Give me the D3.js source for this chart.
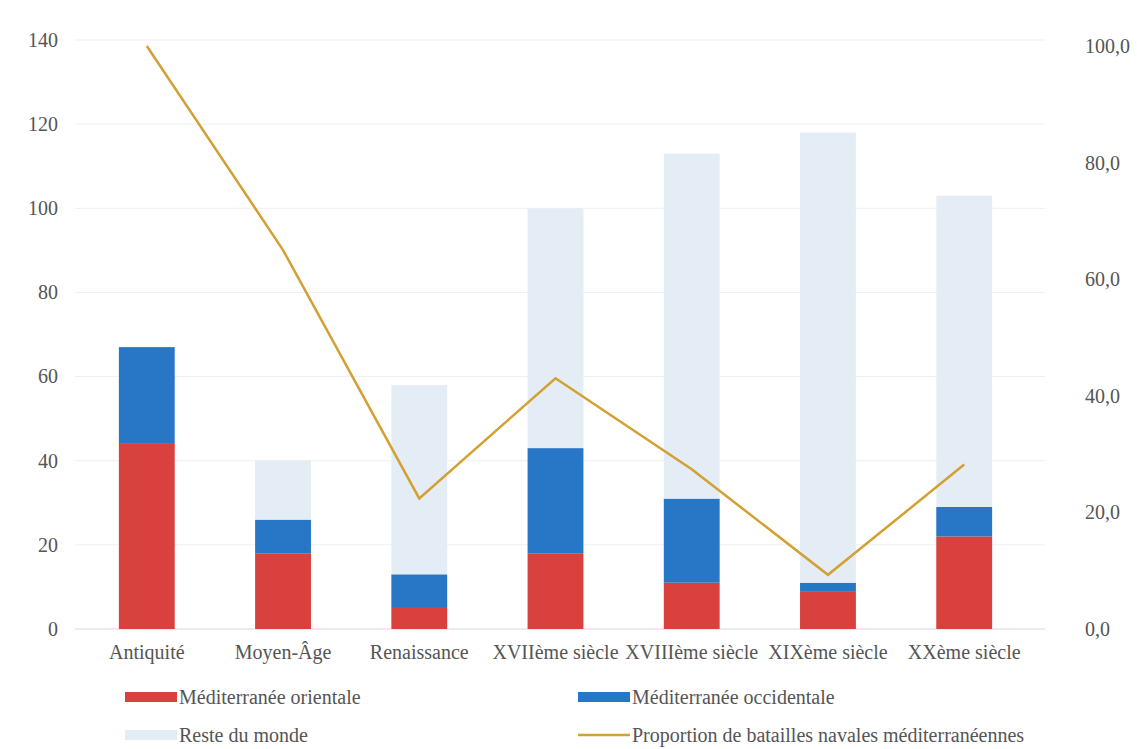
<!DOCTYPE html>
<html>
<head>
<meta charset="utf-8">
<script src="https://cdn.jsdelivr.net/npm/d3@7"></script>
<style>
	body { margin: 0; background: #fff; }
	svg text { font-family: 'Liberation Serif', 'DejaVu Serif', serif; fill: #555; }
</style>
</head>
<body>
<div id="chart"></div>
<script>
// categories and series
var periods = ["Antiquité", "Moyen-Âge", "Renaissance", "XVIIème siècle", "XVIIIème siècle", "XIXème siècle", "XXème siècle"];
var medOrientale = [44, 18, 5, 18, 11, 9, 22];
var medOccidentale = [23, 8, 8, 25, 20, 2, 7];
var resteMonde = [0, 14, 45, 57, 82, 107, 74];
var proportion = [100, 65, 22.4, 43, 27.4, 9.3, 28.2];
var leftTicks = [0, 20, 40, 60, 80, 100, 120, 140];
var rightTicks = [0, 20, 40, 60, 80, 100];

var seriesNames = ["Méditerranée orientale", "Méditerranée occidentale", "Reste du monde"];
var colors = ["#d8413d", "#2877c6", "#e4edf6"];
var lineColor = "#d3a033";

var width = 1137, height = 749;

var svg = d3.select("#chart")
	.append("svg")
	.attr("width", width)
	.attr("height", height);

var x = d3.scaleBand()
	.domain(periods)
	.range([78, 1033])
	.paddingInner(0.59)
	.paddingOuter(0.3);

var y = d3.scaleLinear().domain([0, 140]).range([629, 40]);
var y2 = d3.scaleLinear().domain([0, 100]).range([629, 46]);

// faint gridlines
svg.append("g")
	.selectAll("line")
	.data(leftTicks)
	.enter().append("line")
	.attr("x1", 75)
	.attr("x2", 1045)
	.attr("y1", function(d) { return y(d); })
	.attr("y2", function(d) { return y(d); })
	.style("stroke", function(d) { return d === 0 ? "#d8d8d8" : "#efefef"; })
	.style("stroke-width", 1);

// stacked bars
var table = periods.map(function(p, i) {
	return { period: p, s0: medOrientale[i], s1: medOccidentale[i], s2: resteMonde[i] };
});
var stack = d3.stack().keys(["s0", "s1", "s2"])(table);

svg.append("g")
	.selectAll("g")
	.data(stack)
	.enter().append("g")
	.style("fill", function(d, i) { return colors[i]; })
	.selectAll("rect")
	.data(function(d) { return d; })
	.enter().append("rect")
	.attr("x", function(d) { return x(d.data.period); })
	.attr("y", function(d) { return y(d[1]); })
	.attr("width", x.bandwidth())
	.attr("height", function(d) { return y(d[0]) - y(d[1]); });

// proportion line on right axis
var line = d3.line()
	.x(function(d, i) { return x(periods[i]) + x.bandwidth() / 2; })
	.y(function(d) { return y2(d); });

svg.append("path")
	.datum(proportion)
	.attr("d", line)
	.style("fill", "none")
	.style("stroke", lineColor)
	.style("stroke-width", 2.5);

// axes
var leftAxis = svg.append("g")
	.attr("transform", "translate(58,0)")
	.call(d3.axisLeft(y).tickValues(leftTicks).tickSize(0).tickPadding(0));
var rightAxis = svg.append("g")
	.attr("transform", "translate(1085,0)")
	.call(d3.axisRight(y2).tickValues(rightTicks).tickSize(0).tickPadding(0)
		.tickFormat(function(d) { return d3.format(".1f")(d).replace(".", ","); }));
var bottomAxis = svg.append("g")
	.attr("transform", "translate(0,645)")
	.call(d3.axisBottom(x).tickSize(0).tickPadding(0));

[leftAxis, rightAxis, bottomAxis].forEach(function(a) {
	a.attr("font-family", null).attr("font-size", null);
	a.select(".domain").remove();
	a.selectAll("text").style("font-size", "20px");
});
bottomAxis.selectAll("text").attr("dy", "0.72em");

// legend
var legendItems = [
	{ name: seriesNames[0], type: "rect", color: colors[0], lx: 125, ly: 697 },
	{ name: seriesNames[1], type: "rect", color: colors[1], lx: 578, ly: 697 },
	{ name: seriesNames[2], type: "rect", color: colors[2], lx: 125, ly: 735 },
	{ name: "Proportion de batailles navales méditerranéennes", type: "line", color: lineColor, lx: 578, ly: 735 }
];

var legend = svg.append("g")
	.selectAll("g")
	.data(legendItems)
	.enter().append("g")
	.attr("transform", function(d) { return "translate(" + d.lx + "," + d.ly + ")"; });

legend.filter(function(d) { return d.type === "rect"; })
	.append("rect")
	.attr("x", 0)
	.attr("y", -5)
	.attr("width", 52)
	.attr("height", 10)
	.style("fill", function(d) { return d.color; });

legend.filter(function(d) { return d.type === "line"; })
	.append("line")
	.attr("x1", 0)
	.attr("x2", 52)
	.attr("y1", 0)
	.attr("y2", 0)
	.style("stroke", function(d) { return d.color; })
	.style("stroke-width", 2.5);

legend.append("text")
	.attr("x", 54)
	.attr("y", 0)
	.attr("dy", "0.35em")
	.style("font-size", "20px")
	.text(function(d) { return d.name; });
</script>
</body>
</html>
